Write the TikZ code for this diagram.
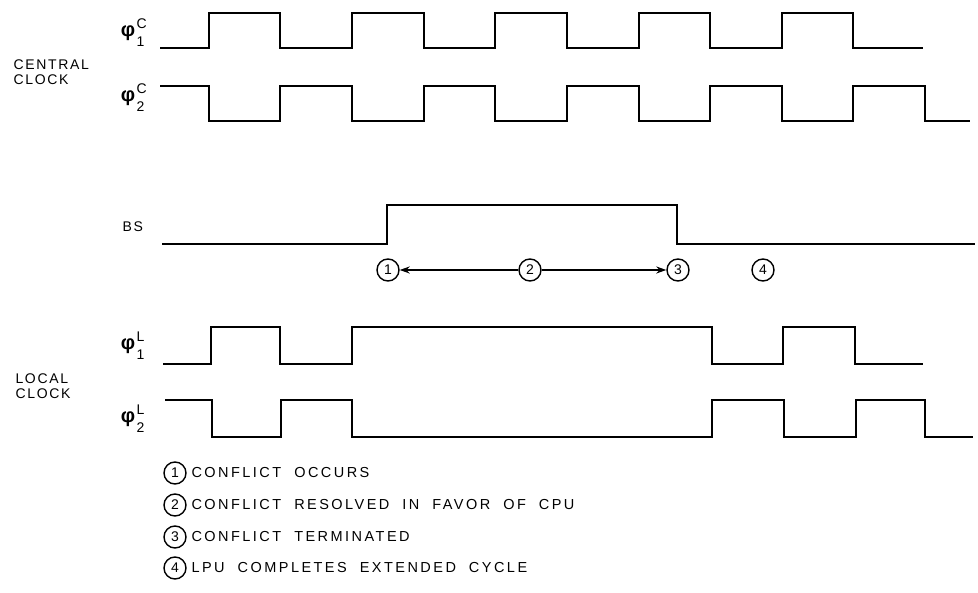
\documentclass[tikz,border=0pt]{standalone}
\usepackage{fontspec}
\usetikzlibrary{arrows.meta}
\newfontfamily\plate[LetterSpace=12]{Liberation Sans}
\newfontfamily\platewide[LetterSpace=17]{Liberation Sans}
\newfontfamily\greek{Liberation Sans}
\begin{document}
\begin{tikzpicture}[x=1pt,y=-1pt,>={Stealth[length=10pt,width=7pt]},
  wave/.style={line width=2.2pt,line join=miter},
  tag/.style={circle,draw,line width=1.4pt,minimum size=22pt,inner sep=0pt,font=\plate\fontsize{14}{14}\selectfont},
  lbl/.style={font=\plate\fontsize{14}{15}\selectfont,align=left,anchor=west},
  sig/.style={font=\greek\bfseries\fontsize{20}{20}\selectfont,inner sep=0pt},
  idx/.style={font=\plate\fontsize{14}{14}\selectfont,inner sep=0pt},
  note/.style={font=\platewide\fontsize{14.5}{15}\selectfont,anchor=west}]
\useasboundingbox (0,0) rectangle (978,593);
% central clock
\node[lbl] (central) at (10,72) {CENTRAL\\CLOCK};
\node[sig] (phi1c) at (128,33) {φ};
\node[idx,anchor=south west] (phi1c-up) at ([xshift=1pt,yshift=4pt]phi1c.east) {C};
\node[idx,anchor=north west] (phi1c-dn) at ([xshift=1pt,yshift=-4pt]phi1c.east) {1};
\node[sig] (phi2c) at (128,98) {φ};
\node[idx,anchor=south west] (phi2c-up) at ([xshift=1pt,yshift=4pt]phi2c.east) {C};
\node[idx,anchor=north west] (phi2c-dn) at ([xshift=1pt,yshift=-4pt]phi2c.east) {2};
\draw[wave] (160,48) -| (209,13) -| (280,48) -| (352,13) -| (424,48) -| (495,13)
  -| (567,48) -| (639,13) -| (710,48) -| (782,13) -| (853,48) -- (923,48);
\draw[wave] (160,86) -| (209,121) -| (280,86) -| (352,121) -| (424,86) -| (495,121)
  -| (567,86) -| (639,121) -| (710,86) -| (782,121) -| (853,86) -| (925,121) -- (970,121);
% bus signal
\node[lbl] (bs) at (119,227) {BS};
\draw[wave] (162,244) -| (387,205) -| (677,244) -- (975,244);
\node[tag] (c1) at (388,270) {1};
\node[tag] (c2) at (530,270) {2};
\node[tag] (c3) at (678,270) {3};
\node[tag] (c4) at (763,270) {4};
\draw[->,line width=1.4pt] (c2) -- (c1);
\draw[->,line width=1.4pt] (c2) -- (c3);
% local clock
\node[lbl] (local) at (12,386) {LOCAL\\CLOCK};
\node[sig] (phi1l) at (128,346) {φ};
\node[idx,anchor=south west] (phi1l-up) at ([xshift=1pt,yshift=4pt]phi1l.east) {L};
\node[idx,anchor=north west] (phi1l-dn) at ([xshift=1pt,yshift=-4pt]phi1l.east) {1};
\node[sig] (phi2l) at (128,419) {φ};
\node[idx,anchor=south west] (phi2l-up) at ([xshift=1pt,yshift=4pt]phi2l.east) {L};
\node[idx,anchor=north west] (phi2l-dn) at ([xshift=1pt,yshift=-4pt]phi2l.east) {2};
\draw[wave] (163,364) -| (211,327) -| (280,364) -| (352,327) -| (712,364) -| (783,327)
  -| (855,364) -- (923,364);
\draw[wave] (165,400) -| (212,437) -| (281,400) -| (352,437) -| (712,400) -| (784,437)
  -| (856,400) -| (925,437) -- (973,437);
% legend
\node[tag] (k1) at (175,473) {1};
\node[tag] (k2) at (175,505) {2};
\node[tag] (k3) at (175,537) {3};
\node[tag] (k4) at (175,568) {4};
\node[note] (n1) at (188,473) {CONFLICT\ \ OCCURS};
\node[note] (n2) at (188,505) {CONFLICT\ \ RESOLVED\ \ IN\ \ FAVOR\ \ OF\ \ CPU};
\node[note] (n3) at (188,537) {CONFLICT\ \ TERMINATED};
\node[note] (n4) at (188,568) {LPU\ \ COMPLETES\ \ EXTENDED\ \ CYCLE};
\end{tikzpicture}
\end{document}
